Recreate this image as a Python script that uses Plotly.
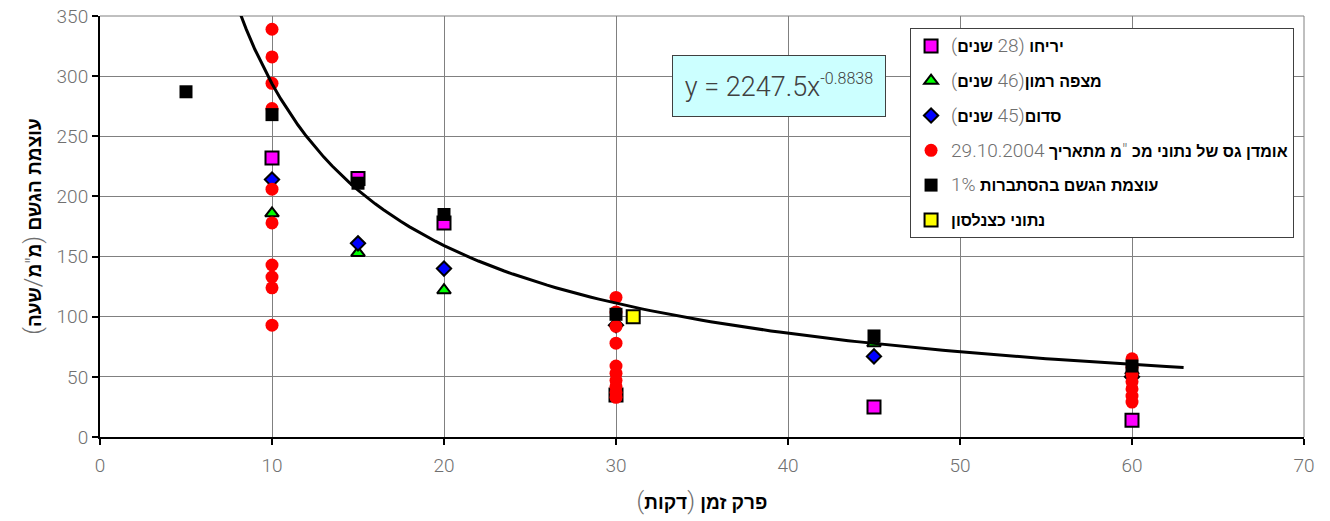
import plotly.graph_objects as go

# ---- data ----
jericho_x = [10, 15, 20, 30, 45, 60]
jericho_y = [232, 215, 178, 35, 25, 14]
mitzpe_x = [10, 15, 20, 45, 60]
mitzpe_y = [186, 153, 122, 78, 55]
sodom_x = [10, 15, 20, 30, 45, 60]
sodom_y = [214, 161, 140, 93, 67, 50]
radar_x = [10] * 10 + [30] * 10 + [60] * 7
radar_y = [339, 316, 294, 273, 206, 178, 143, 133, 124, 93,
           116, 104, 92, 78, 59, 53, 47, 42, 37, 33,
           65, 58, 52, 46, 40, 34, 29]
p1_x = [5, 10, 15, 20, 30, 45, 60]
p1_y = [287, 268, 211, 185, 102, 84, 59]
katz_x = [31]
katz_y = [100]

# power trendline shown on the chart: y = 2247.5 x^-0.8838
fit_a = 2247.5
fit_b = -0.8838
fit_x = [5 + i * 0.5 for i in range(117)]
fit_y = [fit_a * x ** fit_b for x in fit_x]

x_ticks = [0, 10, 20, 30, 40, 50, 60, 70]
y_ticks = [0, 50, 100, 150, 200, 250, 300, 350]

RLE, PDF = "\u202b", "\u202c"
THIN = "Roboto, Lato, sans-serif"


def n(s, size=None):
    st = f"font-family:{THIN};color:#6f6f6f;font-weight:300"
    if size:
        st += f";font-size:{size}px"
    return f"<span style='{st}'>{s}</span>"


def rtl(s):
    return RLE + s + PDF


names = [
    rtl("<b>יריחו</b> " + n("(28", 19) + " <b>שנים</b>" + n(")", 19)),
    rtl("<b>מצפה רמון</b>" + n("(46", 19) + " <b>שנים</b>" + n(")", 19)),
    rtl("<b>סדום</b>" + n("(45", 19) + " <b>שנים</b>" + n(")", 19)),
    rtl("<b>אומדן גס של נתוני מכ</b>" + n(' "', 19) + "<b>מ מתאריך</b> " + n("29.10.2004", 19)),
    rtl("<b>עוצמת הגשם בהסתברות</b> " + n("1%", 19)),
    rtl("<b>נתוני כצנלסון</b>"),
]

fig = go.Figure()

fig.add_trace(go.Scatter(x=jericho_x, y=jericho_y, mode="markers", name=names[0], legendgroup="a",
                         marker=dict(symbol="square", size=13, color="#FF00FF", line=dict(color="black", width=2))))
fig.add_trace(go.Scatter(x=mitzpe_x, y=mitzpe_y, mode="markers", name=names[1], legendgroup="b",
                         marker=dict(symbol="triangle-up", size=12, color="#00FF00", line=dict(color="black", width=2))))
fig.add_trace(go.Scatter(x=sodom_x, y=sodom_y, mode="markers", name=names[2], legendgroup="c",
                         marker=dict(symbol="diamond", size=11, color="#0000FF", line=dict(color="black", width=2))))
fig.add_trace(go.Scatter(x=radar_x, y=radar_y, mode="markers", name=names[3], legendgroup="d",
                         marker=dict(symbol="circle", size=13, color="#FF0000", line=dict(width=0))))
fig.add_trace(go.Scatter(x=p1_x, y=p1_y, mode="markers", name=names[4], legendgroup="e",
                         marker=dict(symbol="square", size=13, color="black", line=dict(width=0))))
fig.add_trace(go.Scatter(x=katz_x, y=katz_y, mode="markers", name=names[5], legendgroup="f",
                         marker=dict(symbol="square", size=13, color="#FFFF00", line=dict(color="black", width=2))))
fig.add_trace(go.Scatter(x=fit_x, y=fit_y, mode="lines", showlegend=False, hoverinfo="skip",
                         line=dict(color="black", width=3)))

axis_common = dict(
    showgrid=True, gridcolor="#808080", gridwidth=1,
    showline=True, linecolor="black", linewidth=2,
    ticks="outside", tickcolor="black", ticklen=6, tickwidth=2,
    tickfont=dict(family=THIN, size=19, color="#707070", weight=300),
    zeroline=False, automargin=False, ticklabeloverflow="allow",
)

fig.update_layout(
    width=1322, height=513,
    margin=dict(l=92, r=26, t=8, b=84),
    paper_bgcolor="white", plot_bgcolor="white",
    font=dict(family="Liberation Sans, DejaVu Sans, sans-serif", size=16, color="black"),
    xaxis=dict(range=[0, 70], tickvals=x_ticks, **axis_common, ticklabelstandoff=4,
               title=dict(text=rtl("<b>פרק זמן</b> " + n("(", 24) + "<b>דקות</b>" + n(")", 24)),
                          font=dict(size=19), standoff=20)),
    yaxis=dict(range=[0, 350], tickvals=y_ticks, **axis_common,
               title=dict(text=rtl("<b>עוצמת הגשם</b> " + n("(", 24) + "<b>מ</b>" + n('"', 22) + "<b>מ</b>"
                                   + n("/", 24) + "<b>שעה</b>" + n(")", 24)),
                          font=dict(size=19), standoff=10)),
    legend=dict(x=0.6728, y=0.9715, xanchor="left", yanchor="top",
                bgcolor="white", bordercolor="#404040", borderwidth=1,
                traceorder="grouped", tracegroupgap=11,
                font=dict(size=16)),
    showlegend=True,
)

# plot-area frame (top and right edges, as gridlines in the reference)
fig.add_shape(type="line", xref="paper", yref="paper", x0=0, x1=1, y0=1, y1=1,
              line=dict(color="#808080", width=1), layer="below")
fig.add_shape(type="line", xref="paper", yref="paper", x0=1, x1=1, y0=0, y1=1,
              line=dict(color="#808080", width=1), layer="below")

fig.add_annotation(
    xref="paper", yref="paper", x=0.564, y=0.8337, xanchor="center", yanchor="middle",
    text="y = 2247.5x<sup><span style='font-size:16px'>-0.8838</span></sup>",
    showarrow=False,
    font=dict(family=THIN, size=27, color="#404040", weight=300),
    bgcolor="#CCFFFF", bordercolor="#404040", borderwidth=1, borderpad=2,
    width=208, height=56,
)

fig.write_html("out.html")
